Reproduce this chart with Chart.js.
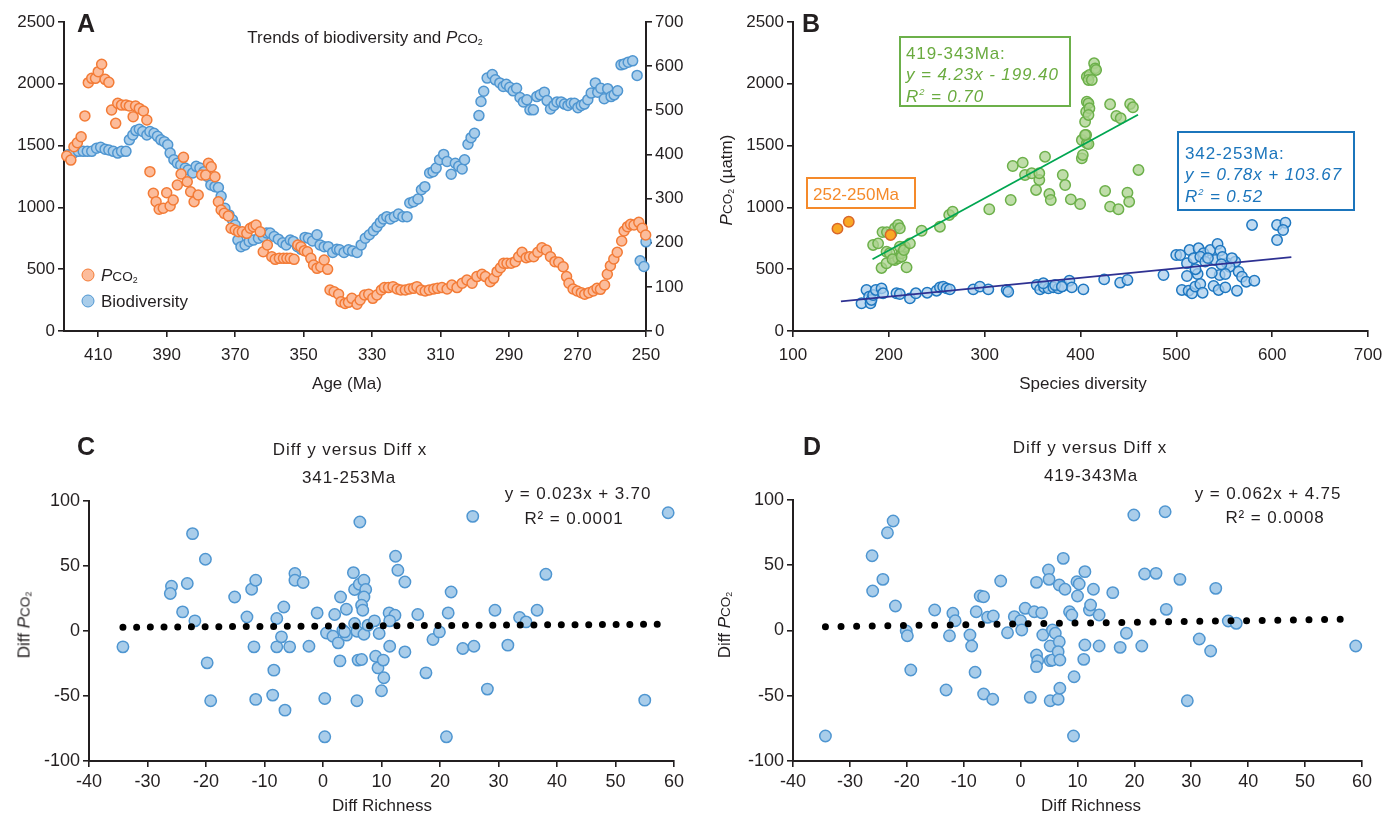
<!DOCTYPE html>
<html>
<head>
<meta charset="utf-8">
<script src="https://cdn.jsdelivr.net/npm/chart.js@4.4.1/dist/chart.umd.min.js"></script>
<style>
body { margin: 0; background: #fff; width: 1391px; height: 815px; position: relative; overflow: hidden;
       font-family: 'Liberation Sans', Arial, sans-serif; color: #231f20; }
.panel { position: absolute; }
.txt { position: absolute; white-space: nowrap; transform: translate(-50%, -50%); font-size: 17px; line-height: 1; }
.lbl { position: absolute; white-space: nowrap; transform: translateY(-50%); font-size: 17px; line-height: 1; }
.rot { transform: translate(-50%, -50%) rotate(-90deg); }
.wide { letter-spacing: 0.9px; }
.letter { position: absolute; transform: translate(-50%, -50%); font-family: 'Liberation Sans Narrow', 'Liberation Sans', sans-serif;
          font-weight: bold; font-size: 25px; line-height: 1; }
.co { font-size: 80%; }
sub { font-size: 65%; vertical-align: -0.25em; line-height: 0; }
.box { position: absolute; border: 2px solid; box-sizing: border-box; }
.dot { position: absolute; width: 13px; height: 13px; border-radius: 50%; box-sizing: border-box; border: 1.6px solid; transform: translate(-50%, -50%); }
</style>
</head>
<body>

<div class="panel" style="left:0;top:0"><canvas id="chartA" width="700" height="400"></canvas></div>
<div class="panel" style="left:700px;top:0"><canvas id="chartB" width="691" height="400"></canvas></div>
<div class="panel" style="left:0;top:420px"><canvas id="chartC" width="700" height="395"></canvas></div>
<div class="panel" style="left:700px;top:420px"><canvas id="chartD" width="691" height="395"></canvas></div>

<!-- panel A text -->
<div class="letter" style="left:86px;top:23px">A</div>
<div class="txt" style="left:365px;top:37px">Trends of biodiversity and <i>P</i><span class="co">CO<sub>2</sub></span></div>
<div class="txt" style="left:347px;top:383px">Age (Ma)</div>
<div class="dot" style="left:88px;top:275px;background:#fcbc9b;border-color:#f37b36"></div>
<div class="lbl" style="left:101px;top:275px"><i>P</i><span class="co">CO<sub>2</sub></span></div>
<div class="dot" style="left:88px;top:301px;background:#a9cdea;border-color:#4f96d1"></div>
<div class="lbl" style="left:101px;top:301px">Biodiversity</div>

<!-- panel B text -->
<div class="letter" style="left:811px;top:23px">B</div>
<div class="txt" style="left:1083px;top:383px">Species diversity</div>
<div class="txt rot" style="left:726px;top:180px"><i>P</i><span class="co">CO<sub>2</sub></span> (µatm)</div>
<div class="box" style="left:899px;top:36px;width:172px;height:71px;border-color:#6cb04a"></div>
<div class="lbl wide" style="left:906px;top:53px;color:#6aab3f">419-343Ma:</div>
<div class="lbl wide" style="left:906px;top:74px;color:#6aab3f"><i>y = 4.23x - 199.40</i></div>
<div class="lbl wide" style="left:906px;top:96px;color:#6aab3f"><i>R<sup style="font-size:55%">2</sup> = 0.70</i></div>
<div class="box" style="left:806px;top:177px;width:110px;height:32px;border-color:#f58a2a"></div>
<div class="lbl" style="left:813px;top:194px;color:#f58a2a">252-250Ma</div>
<div class="box" style="left:1177px;top:131px;width:178px;height:80px;border-color:#1b75bc"></div>
<div class="lbl wide" style="left:1185px;top:153px;color:#1b75bc">342-253Ma:</div>
<div class="lbl wide" style="left:1185px;top:174px;color:#1b75bc"><i>y = 0.78x + 103.67</i></div>
<div class="lbl wide" style="left:1185px;top:196px;color:#1b75bc"><i>R<sup style="font-size:55%">2</sup> = 0.52</i></div>

<!-- panel C text -->
<div class="letter" style="left:86px;top:446px">C</div>
<div class="txt wide" style="left:350px;top:449px">Diff y versus Diff x</div>
<div class="txt wide" style="left:349px;top:477px">341-253Ma</div>
<div class="txt wide" style="left:578px;top:493px">y = 0.023x + 3.70</div>
<div class="txt wide" style="left:574px;top:518px">R² = 0.0001</div>
<div class="txt" style="left:382px;top:805px">Diff Richness</div>
<div class="txt rot" style="left:24px;top:625px">Diff <i>P</i><span class="co">CO<sub>2</sub></span></div>

<!-- panel D text -->
<div class="letter" style="left:812px;top:446px">D</div>
<div class="txt wide" style="left:1090px;top:447px">Diff y versus Diff x</div>
<div class="txt wide" style="left:1091px;top:475px">419-343Ma</div>
<div class="txt wide" style="left:1268px;top:493px">y = 0.062x + 4.75</div>
<div class="txt wide" style="left:1275px;top:517px">R² = 0.0008</div>
<div class="txt" style="left:1091px;top:805px">Diff Richness</div>
<div class="txt rot" style="left:724px;top:625px">Diff <i>P</i><span class="co">CO<sub>2</sub></span></div>

<script>
// ---- Panel A: trends through time ----
const ageTicks = [410, 390, 370, 350, 330, 310, 290, 270, 250];
const pco2Ticks = [0, 500, 1000, 1500, 2000, 2500];
const bioTicks = [0, 100, 200, 300, 400, 500, 600, 700];

const pco2Ages = [419.2, 418, 417.1, 416.1, 415, 413.9, 412.9, 411.9, 410.8, 410, 409, 408, 406.9, 406.1, 404.9, 404.3,
  403.2, 401.9, 400.9, 399.8, 399.1, 398, 396.8, 395.8, 394.9, 393.9, 393.1, 392.2, 391, 390, 389, 388.1, 386.9, 385.8,
  385.1, 384, 383, 382, 380.8, 379.8, 378.6, 377.8, 377, 375.9, 374.9, 374.1, 373.2, 372, 371.2, 370, 369, 367.9, 366.6,
  365.6, 364.7, 363.9, 362.7, 361.8, 360.6, 359.3, 358.3, 357.1, 355.9, 354.9, 353.9, 352.8, 351.7, 350.8, 349.8, 348.9,
  347.9, 347.1, 346.1, 345, 344, 343, 342.3, 341.1, 339.8, 339.1, 337.9, 336.9, 335.9, 334.4, 333.5, 332.2, 331, 329.8,
  328.6, 327.3, 326.4, 325.2, 323.9, 322.7, 321.6, 320.3, 319.1, 317.9, 316.9, 315.7, 314.5, 313.3, 312, 310.9, 309.6,
  308.1, 306.7, 305.2, 303.7, 302.3, 300.8, 299.4, 297.9, 296.9, 295.5, 294.5, 293.5, 292.5, 291.6, 290.6, 289.4, 288.2,
  287.2, 286.2, 285, 284, 282.8, 281.6, 280.4, 279.1, 277.9, 276.6, 275.5, 274.2, 273.2, 272.5, 271.3, 270.1, 268.9,
  267.9, 266.7, 265.4, 264.3, 263.3, 262.1, 261.3, 260.4, 259.4, 258.4, 257.1, 256.4, 255.4, 254.5, 253.5, 252.1, 251.1, 250.1];
const pco2Values = [1416, 1383, 1491, 1523, 1572, 1740, 2009, 2044, 2044, 2098, 2158, 2036, 2012, 1788, 1680, 1842,
  1828, 1828, 1820, 1734, 1820, 1801, 1780, 1707, 1289, 1114, 1046, 985, 993, 1119, 1011, 1060, 1181, 1270,
  1405, 1208, 1127, 1046, 1100, 1262, 1262, 1357, 1329, 1248, 1046, 979, 952, 930, 831, 817, 803, 803, 790,
  831, 844, 858, 803, 641, 696, 601, 580, 588, 588, 588, 588, 580, 696, 682, 650, 641,
  588, 534, 507, 520, 574, 499, 332, 318, 297, 237, 223, 232, 264, 216, 251, 291, 297, 264,
  291, 332, 351, 351, 359, 340, 332, 332, 340, 345, 359, 332, 324, 332, 340, 345, 351,
  340, 372, 351, 386, 413, 386, 440, 459, 440, 399, 426, 480, 512, 548, 548, 548, 561,
  601, 637, 593, 601, 601, 637, 674, 655, 601, 561, 556, 520, 440, 386, 340, 324, 310,
  297, 310, 324, 345, 337, 372, 459, 528, 583, 637, 728, 809, 844, 863, 858, 879, 831, 777];

const bioAges = [418.8, 417.3, 415.8, 414.4, 413.2, 411.9, 410.5, 409.3, 408, 406.9, 405.6, 404.3, 403.2, 401.9, 400.9,
  399.9, 399, 398, 397, 395.8, 394.9, 393.7, 392.7, 391.7, 390.7, 389.7, 389, 387.9, 386.9, 385.9, 384.6, 383.7, 382.4,
  381.4, 380.3, 379.1, 378.1, 377.1, 375.9, 374.9, 374.1, 373, 371.8, 370.8, 370, 369.2, 368.3, 367.1, 365.9, 364.7,
  363.2, 361.8, 360.8, 359.8, 358.6, 357.4, 356.1, 355.1, 353.9, 353, 351.8, 350.7, 349.6, 348.6, 347.4, 346.1, 345.2,
  344, 342.8, 341.5, 340.3, 339.5, 338.2, 336.9, 335.7, 334.4, 333.2, 332, 330.8, 329.6, 328.6, 327.6, 326.7, 325.7,
  324.7, 323.5, 322.3, 321, 319.8, 319, 317.9, 316.6, 315.6, 314.6, 313.2, 312.2, 311.3, 310.3, 309.1, 308.1, 306.9,
  305.7, 304.7, 303.7, 303, 302, 301.1, 300.1, 298.8, 298.2, 297.4, 296.4, 294.9, 294, 292.7, 291.7, 290.8, 289.8,
  288.8, 287.8, 286.8, 285.8, 284.8, 283.9, 282.9, 281.9, 280.9, 279.7, 278.9, 277.9, 276.9, 276, 274.8, 273.8, 272.8,
  271.9, 270.9, 269.9, 268.9, 268, 267, 266, 264.8, 264.1, 263.2, 262.2, 261.2, 260.2, 259.3, 258.3, 257.3, 256.4,
  255.2, 253.9, 252.6, 251.7, 250.6, 250];
const bioValues = [399, 403, 407, 407, 407, 407, 414, 416, 412, 410, 407, 403, 407, 407, 433,
  444, 454, 457, 452, 444, 452, 448, 441, 433, 429, 422, 403, 388, 380, 376, 369, 365, 358,
  373, 369, 361, 350, 331, 327, 325, 305, 278, 263, 252, 240, 206, 191, 195, 203, 206,
  210, 214, 222, 222, 214, 208, 200, 195, 206, 203, 191, 185, 212, 210, 204, 218, 195,
  191, 191, 178, 185, 184, 178, 184, 181, 178, 195, 210, 218, 227, 236, 246, 254, 259,
  254, 259, 265, 259, 259, 290, 293, 299, 320, 327, 358, 361, 369, 388, 400, 384, 355,
  380, 373, 367, 388, 423, 438, 448, 488, 520, 543, 573, 581, 569, 562, 554, 559, 552,
  544, 550, 529, 519, 524, 501, 501, 531, 535, 541, 522, 503, 511, 519, 519, 514, 511,
  516, 516, 506, 511, 514, 524, 539, 562, 541, 550, 526, 549, 531, 535, 544, 603, 605,
  609, 612, 579, 159, 146, 202];

// ---- Panel B: pCO2 versus species diversity ----
const divTicks = [100, 200, 300, 400, 500, 600, 700];
const greenDiv = [183.6, 188.8, 193.4, 198, 192.4, 197.6, 197.6, 202.8, 206.3, 209.7, 211.5, 206.3, 209.7, 213.3, 216.7,
  218.5, 201, 203.9, 211.5, 213.3, 215.7, 222, 234.2, 253.3, 263, 266.6, 304.8, 327.2, 329.3, 339.7, 342.1, 349.1, 353.6,
  357, 363, 357, 367.5, 369, 381.5, 384, 389.9, 399.6, 401.4, 402.4, 401.4, 405.9, 406.6, 404.8, 405.9, 406.6, 408.3,
  406.6, 409.3, 408.3, 411.8, 414.2, 415.3, 416.3, 409.3, 408.3, 430.9, 451.8, 454.7, 437.4, 441.9, 408.3, 460.5, 425.7,
  430.9, 439.6, 449, 450.8, 404.8];
const greenPco2 = [696, 709, 800, 800, 510, 548, 641, 790, 831, 858, 831, 574, 588, 629, 682,
  515, 629, 580, 682, 601, 655, 709, 811, 844, 939, 965, 985, 1060, 1335, 1362, 1262, 1276, 1141,
  1222, 1410, 1276, 1108, 1060, 1262, 1181, 1065, 1027, 1397, 1424, 1545, 1586, 1519, 1693, 1774, 1855, 1842,
  2058, 2071, 2031, 2031, 2166, 2125, 2112, 1802, 1748, 1834, 1837, 1810, 1740, 1721, 1513, 1303, 1133,
  1006, 985, 1119, 1046, 1586];
const blueDiv = [171.5, 176.7, 179.4, 180.9, 181.9, 183.6, 186.4, 192.4, 194, 208, 211.5, 222, 228.2, 240, 249.8, 253.3,
  256.7, 260.3, 263.7, 288.1, 295, 303.8, 323, 324.6, 354.3, 357.8, 362, 366.5, 371.7, 376.9, 381.5, 388.4, 390.9, 403,
  361.2, 373.5, 380.5, 424.7, 441.4, 449, 486.6, 499.9, 504.1, 513.8, 523.2, 528.4, 535.4, 543, 545.9, 511.1, 518, 525,
  530.2, 540.6, 552.9, 561.5, 555.5, 511.1, 522.2, 545.2, 551.1, 565, 568.5, 573, 581.4, 505.8, 512.8, 516.3, 519.7, 525,
  527.4, 538.9, 544.1, 551.1, 563.3, 579, 605.1, 613.8, 611.4, 605.1, 533, 548, 558, 520, 537, 547];
const bluePco2 = [224, 332, 278, 224, 251, 291, 332, 345, 305, 305, 299, 264, 305, 310, 326, 353,
  359, 345, 337, 337, 359, 337, 332, 318, 372, 337, 353, 345, 353, 345, 364, 407, 353, 337,
  386, 372, 359, 418, 391, 413, 453, 615, 615, 655, 669, 629, 655, 704, 650, 548, 588, 601,
  561, 574, 548, 561, 520, 445, 461, 453, 461, 480, 439, 399, 407, 332, 326, 305, 359, 380,
  310, 364, 332, 353, 326, 858, 858, 876, 817, 736, 590, 600, 590, 500, 470, 540];
const orangeDiv = [146.4, 158.2, 201.8];
const orangePco2 = [828, 884, 777];
const greenFitX = [183, 460];
const greenFitY = [580, 1750];
const blueFitX = [150, 620];
const blueFitY = [240, 598];

// ---- Panels C and D: differenced series ----
const diffXTicks = [-40, -30, -20, -10, 0, 10, 20, 30, 40, 50, 60];
const diffYTicks = [-100, -50, 0, 50, 100];
const cDiffRich = [-34.2, -22.3, -20.1, -25.9, -26.1, -23.2, -24, -21.9, -19.8, -19.2, -15.1, -13, -12.2, -11.5, -11.8,
  -11.5, -8.6, -8.4, -7.9, -7.9, -7.1, -6.7, -6.5, -5.7, -4.8, -4.8, -3.4, -2.4, -1, 0.3, 0.3, 0.6, 1.7, 2, 2.6, 2.9, 3,
  3.4, 4, 4, 3.7, 5.2, 5.4, 6.2, 6.3, 5.4, 5.8, 7, 7.3, 7, 6.6, 6.8, 7, 6, 6.6, 5.8, 7.7, 8.8, 9.6, 9, 9.4, 10.3, 10.4,
  10, 11.4, 11.3, 12.3, 11.4, 12.4, 12.8, 14, 14, 16.2, 17.6, 18.8, 19.9, 21.1, 21.4, 21.9, 23.9, 25.6, 25.8, 28.1,
  29.4, 31.6, 33.6, 34.7, 36.6, 38.1, 55, 59];
const cDiffPco2 = [-12.2, 74.9, 55.2, 34.4, 28.8, 36.5, 14.7, 7.8, -24.5, -53.7, 26.2, 10.8, 32.1, 39, -12.2,
  -52.6, -49.3, -30.1, 9.6, -12.2, -4.5, 18.5, -60.9, -12.2, 44.2, 39, 37.3, -11.7, 13.9, -51.9, -81.4, -1.5, -4, 12.7,
  -9.1, -23, 26.2, 0.6, 16.7, -3.2, -0.7, 44.9, 31.9, 36, 83.8, 5.8, -0.2, 39, 31.9, 26.2, 19.8, 16, -2.5, -22.4, -21.9,
  -53.7, 4.5, 7.8, -1.9, -19.4, -28.4, -22.4, -36, -46, -11.7, 13.9, 12.1, 7.8, 57.5, 46.7, 37.7, -16.1, 12.7, -32.2,
  -6.5, -0.7, -81.4, 13.9, 30, -13.5, 88.2, -11.7, -44.7, 16, -10.9, 10.4, 7, 16, 43.6, -53.2, 91];
const cFitX = [-34.2, 57.3];
const cFitY = [2.9, 5.2];

const dDiffRich = [-34.3, -22.4, -23.4, -26.1, -24.2, -26, -22, -20.1, -19.9, -19.3, -15.1, -13.1, -12.5, -11.9, -11.5,
  -8.9, -8.6, -8, -7.8, -7.1, -6.5, -6.5, -5.8, -4.9, -4.8, -3.5, -2.3, -1.1, 0, 0.2, 0.8, 1.7, 2.4, 2.8, 2.8, 3, 2.8,
  3.7, 3.9, 4.9, 5, 5.2, 5.2, 5.2, 5.6, 6.1, 5.6, 6.8, 6.6, 6.9, 6.6, 6.9, 6.8, 7.5, 7.8, 8.6, 9, 9.3, 9.4, 9.9, 10.3,
  10, 11.3, 12.1, 12.3, 11.3, 11.1, 12.8, 13.8, 13.8, 16.2, 17.5, 18.6, 19.9, 21.3, 21.8, 23.8, 25.4, 25.6, 28, 29.3,
  31.4, 33.4, 34.3, 36.5, 37.9, 58.9];
const dDiffPco2 = [-80.8, 83.9, 74.9, 57.3, 39.2, 30.3, 18.8, -0.4, -4, -30.3, 15.7, -45.6, -4, 13.2, 7.5,
  -3.4, -11.9, -32, 14.4, 26.4, 25.9, -48.7, 10.1, -52.7, 11.1, 37.9, -1.7, 10.6, 7.5, 0.4, 17, -51.2, 14.4, 36.9, -18.8,
  -23.1, -27.7, 13.6, -3.4, 46.4, 39.2, -11.9, -23.1, -53.8, 0.4, -2.1, -22.6, -8.6, -16.2, -22.6, -52.7, -44.3, 34.9,
  55.3, 31.6, 14.4, 11.9, -80.8, -35.4, 37.4, 35.6, 26.4, 45.1, 15.7, 19.5, -11.1, -22.1, 31.6, 11.9, -11.9, 29, -12.9,
  -2.1, 88.5, -11.9, 43.3, 43.8, 91, 16.2, 39.2, -53.8, -6.5, -15.7, 32.3, 7.3, 5.5, -11.9];
const dFitX = [-34.3, 56.2];
const dFitY = [2.9, 8.6];

const INK = '#231f20';
const FONT = "'Liberation Sans', Arial, sans-serif";

function pts(xs, ys) {
    return xs.map((x, i) => ({ x: x, y: ys[i] }));
}

// axis with fixed box size, so the plot areas land where the figure has them
function makeAxis(o) {
    return {
        type: 'linear',
        position: o.position,
        min: o.min,
        max: o.max,
        reverse: !!o.reverse,
        afterFit: o.horizontal ? function(s) { s.height = o.size; } : function(s) { s.width = o.size; },
        afterBuildTicks: function(s) { s.ticks = o.ticks.map(v => ({ value: v })); },
        grid: { display: true, drawOnChartArea: false, drawTicks: true, tickLength: 6, color: INK, lineWidth: 1.6 },
        border: { display: true, color: INK, width: 2 },
        ticks: {
            color: INK, font: { family: FONT, size: o.fontSize || 17 }, padding: o.pad,
            autoSkip: false, maxRotation: 0, callback: v => String(v)
        }
    };
}

function baseOptions(scales, pad) {
    return {
        responsive: false,
        devicePixelRatio: 1,
        animation: false,
        layout: { padding: pad },
        plugins: { legend: { display: false }, tooltip: { enabled: false } },
        scales: scales
    };
}

function dotSet(data, fill, line, r) {
    return { data: data, backgroundColor: fill, borderColor: line, borderWidth: 1.5, pointRadius: r, clip: false };
}

// Panel A
new Chart(document.getElementById('chartA'), {
    type: 'scatter',
    data: {
        datasets: [
            Object.assign(dotSet(pts(pco2Ages, pco2Values), '#fcbc9b', '#f37b36', 5), { yAxisID: 'y' }),
            Object.assign(dotSet(pts(bioAges, bioValues), '#a9cdea', '#4f96d1', 5), { yAxisID: 'y1' })
        ]
    },
    options: baseOptions({
        x: makeAxis({ position: 'bottom', min: 250, max: 420, reverse: true, horizontal: true, size: 69, ticks: ageTicks, pad: 8 }),
        y: makeAxis({ position: 'left', min: 0, max: 2500, size: 64, ticks: pco2Ticks, pad: 3 }),
        y1: makeAxis({ position: 'right', min: 0, max: 700, size: 54, ticks: bioTicks, pad: 3 })
    }, { top: 22, right: 0, left: 0, bottom: 0 })
});

// Panel B
new Chart(document.getElementById('chartB'), {
    type: 'scatter',
    data: {
        datasets: [
            { data: pts(greenFitX, greenFitY), showLine: true, pointRadius: 0, borderColor: '#00a651', borderWidth: 1.8 },
            { data: pts(blueFitX, blueFitY), showLine: true, pointRadius: 0, borderColor: '#2e3192', borderWidth: 1.6 },
            dotSet(pts(orangeDiv, orangePco2), '#f9a825', '#d9662a', 5.2),
            dotSet(pts(greenDiv, greenPco2), 'rgba(170,210,140,0.75)', '#6cb04a', 5.2),
            dotSet(pts(blueDiv, bluePco2), 'rgba(170,205,236,0.75)', '#1f78c1', 5.2)
        ]
    },
    options: baseOptions({
        x: makeAxis({ position: 'bottom', min: 100, max: 700, horizontal: true, size: 69, ticks: divTicks, pad: 8 }),
        y: makeAxis({ position: 'left', min: 0, max: 2500, size: 93, ticks: pco2Ticks, pad: 3 })
    }, { top: 22, right: 23, left: 0, bottom: 0 })
});

function diffChart(id, xs, ys, fx, fy, left, top, right, gap) {
    return new Chart(document.getElementById(id), {
        type: 'scatter',
        data: {
            datasets: [
                { data: pts(fx, fy), showLine: true, pointRadius: 0, borderColor: '#000', borderWidth: 7,
                  borderCapStyle: 'round', borderDash: [0, gap] },
                dotSet(pts(xs, ys), '#a9cdea', '#4f96d1', 5.7)
            ]
        },
        options: baseOptions({
            x: makeAxis({ position: 'bottom', min: -40, max: 60, horizontal: true, size: 54, ticks: diffXTicks, pad: 4, fontSize: 18 }),
            y: makeAxis({ position: 'left', min: -100, max: 100, size: left, ticks: diffYTicks, pad: 3, fontSize: 18 })
        }, { top: top, right: right, left: 0, bottom: 0 })
    });
}

diffChart('chartC', cDiffRich, cDiffPco2, cFitX, cFitY, 89, 81, 26, 13.7);
diffChart('chartD', dDiffRich, dDiffPco2, dFitX, dFitY, 93, 80, 29, 15.6);
</script>
</body>
</html>
